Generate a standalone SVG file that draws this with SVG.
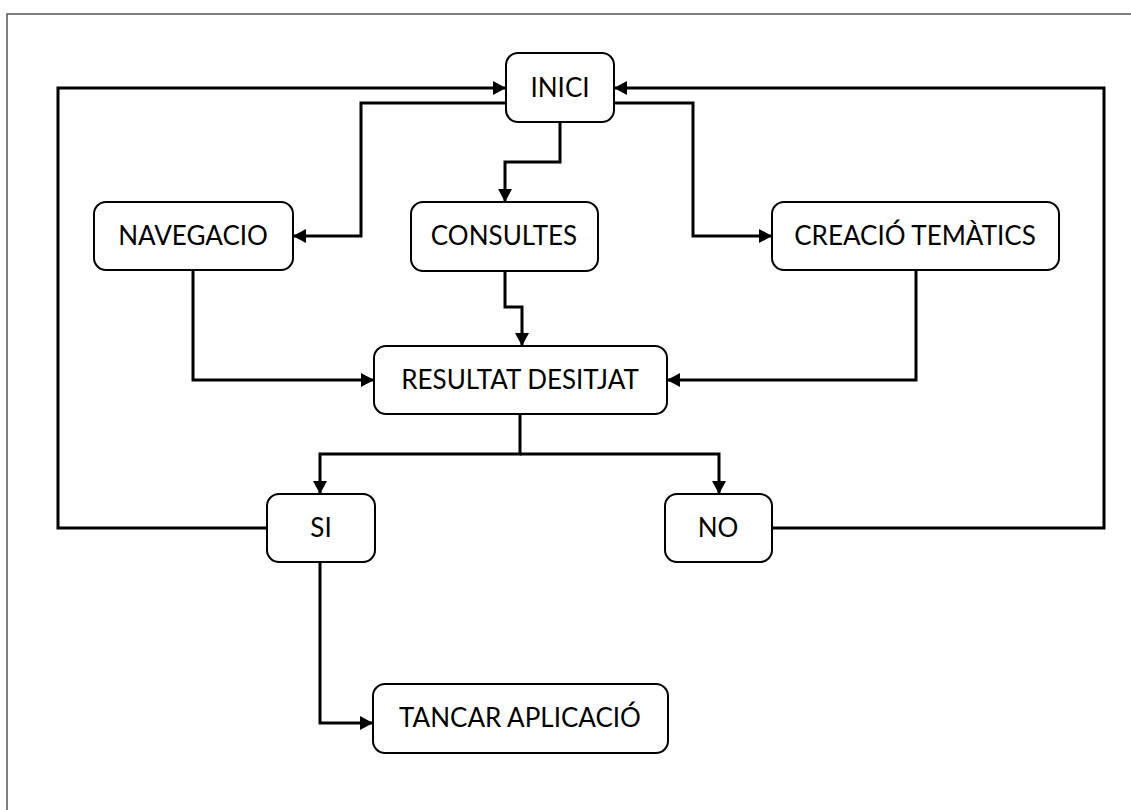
<svg xmlns="http://www.w3.org/2000/svg" width="1131" height="810" viewBox="0 0 1131 810">
<style>
.box{fill:#fff;stroke:#000;stroke-width:2}
.lbl{font-family:Lato,"Open Sans","Liberation Sans",sans-serif;font-size:26px;fill:#000;text-anchor:middle}
.con{fill:none;stroke:#000;stroke-width:3;marker-end:url(#arr)}
.plain{fill:none;stroke:#000;stroke-width:3}
</style>
<defs>
<marker id="arr" markerUnits="userSpaceOnUse" markerWidth="16" markerHeight="16" refX="13" refY="7" orient="auto">
<path d="M0,0 L13,7 L0,14 Z" fill="#000"/>
</marker>
</defs>
<rect x="7" y="14" width="1140" height="820" fill="none" stroke="#555" stroke-width="1.5"/>
<g id="connectors">
<path class="con" d="M267,528 H58 V88 H506"/>
<path class="con" d="M772,528 H1104 V88 H614"/>
<path class="con" d="M506,103 H361 V236 H293"/>
<path class="con" d="M614,103 H693 V236 H772"/>
<path class="con" d="M560,122 V162 H505 V202"/>
<path class="con" d="M505,271 V307 H522 V346"/>
<path class="con" d="M193,270 V380 H374"/>
<path class="con" d="M916,270 V380 H667"/>
<path class="con" d="M520,414 V454 H320 V494"/>
<path class="con" d="M520,454 H719 V494"/>
<path class="con" d="M320,562 V723 H373"/>
</g>
<g id="inici"><rect class="box" x="506" y="53" width="108" height="69" rx="12"/><text class="lbl" x="560" y="97">INICI</text></g>
<g id="navegacio"><rect class="box" x="94" y="202" width="199" height="68" rx="12"/><text class="lbl" x="193" y="245">NAVEGACIO</text></g>
<g id="consultes"><rect class="box" x="411" y="202" width="187" height="69" rx="12"/><text class="lbl" x="504" y="245">CONSULTES</text></g>
<g id="creacio"><rect class="box" x="772" y="202" width="287" height="68" rx="12"/><text class="lbl" x="915" y="245">CREACIÓ TEMÀTICS</text></g>
<g id="resultat"><rect class="box" x="374" y="346" width="293" height="68" rx="12"/><text class="lbl" x="520" y="389">RESULTAT DESITJAT</text></g>
<g id="si"><rect class="box" x="267" y="494" width="108" height="68" rx="12"/><text class="lbl" x="321" y="537">SI</text></g>
<g id="no"><rect class="box" x="665" y="494" width="107" height="68" rx="12"/><text class="lbl" x="718" y="537">NO</text></g>
<g id="tancar"><rect class="box" x="373" y="684" width="295" height="69" rx="12"/><text class="lbl" x="520" y="727">TANCAR APLICACIÓ</text></g>
</svg>
